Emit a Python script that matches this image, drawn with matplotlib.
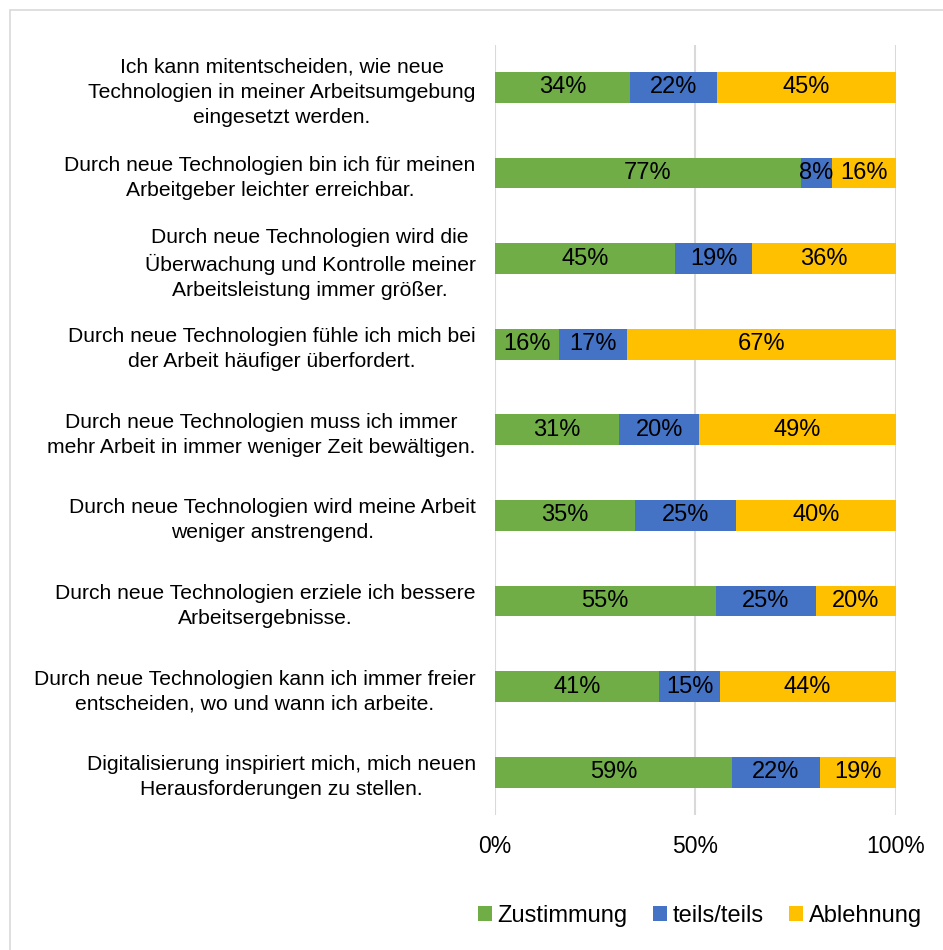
import matplotlib.pyplot as plt
import numpy as np
from matplotlib.patches import Rectangle

plt.rcParams['font.family'] = ['Liberation Sans', 'DejaVu Sans']

# statements (top to bottom)
statements = [
    "Ich kann mitentscheiden, wie neue\nTechnologien in meiner Arbeitsumgebung\neingesetzt werden.",
    "Durch neue Technologien bin ich für meinen\nArbeitgeber leichter erreichbar.",
    "Durch neue Technologien wird die\nÜberwachung und Kontrolle meiner\nArbeitsleistung immer größer.",
    "Durch neue Technologien fühle ich mich bei\nder Arbeit häufiger überfordert.",
    "Durch neue Technologien muss ich immer\nmehr Arbeit in immer weniger Zeit bewältigen.",
    "Durch neue Technologien wird meine Arbeit\nweniger anstrengend.",
    "Durch neue Technologien erziele ich bessere\nArbeitsergebnisse.",
    "Durch neue Technologien kann ich immer freier\nentscheiden, wo und wann ich arbeite.",
    "Digitalisierung inspiriert mich, mich neuen\nHerausforderungen zu stellen.",
]
zustimmung = [34, 77, 45, 16, 31, 35, 55, 41, 59]
teils = [22, 8, 19, 17, 20, 25, 25, 15, 22]
ablehnung = [45, 16, 36, 67, 49, 40, 20, 44, 19]

series_names = ["Zustimmung", "teils/teils", "Ablehnung"]
colors = ["#70AD47", "#4472C4", "#FFC000"]

fig = plt.figure(figsize=(9.43, 9.5), dpi=100)
ax = fig.add_axes([0.525, 0.142, 0.425, 0.811])

# outer frame
fig.patches.append(Rectangle((10 / 943, -0.1), 1.2, 1 - 10 / 950 + 0.1,
                             transform=fig.transFigure, fill=False,
                             edgecolor="#D9D9D9", linewidth=1.2))

data = np.array([zustimmung, teils, ablehnung], dtype=float)
shares = data / data.sum(axis=0)
y = np.arange(len(statements))
left = np.zeros(len(statements))
for i, name in enumerate(series_names):
    ax.barh(y, shares[i], left=left, height=0.36, color=colors[i],
            label=name, zorder=3)
    for j in range(len(statements)):
        ax.text(left[j] + shares[i][j] / 2, y[j], f"{int(data[i][j])}%",
                ha="center", va="center", fontsize=17, color="black", zorder=4)
    left += shares[i]

ax.set_xlim(0, 1)
ax.set_ylim(len(statements) - 0.5, -0.5)
ax.set_xticks([0, 0.5, 1])
ax.set_xticklabels(["0%", "50%", "100%"], fontsize=16.5)
ax.set_yticks(y)
ax.set_yticklabels(statements, fontsize=15.2, multialignment="center",
                   linespacing=1.4)
ax.tick_params(axis="both", length=0)
ax.tick_params(axis="y", pad=14)
ax.tick_params(axis="x", pad=14)
ax.xaxis.grid(True, color="#D9D9D9", linewidth=1.5, zorder=0)
for s in ax.spines.values():
    s.set_visible(False)

fig.legend(loc="center", bbox_to_anchor=(0.742, 0.036), ncol=3, frameon=False,
           fontsize=17, handlelength=0.6, handleheight=0.6, handletextpad=0.25,
           columnspacing=1.05)

fig.savefig("out.png", dpi=100)
